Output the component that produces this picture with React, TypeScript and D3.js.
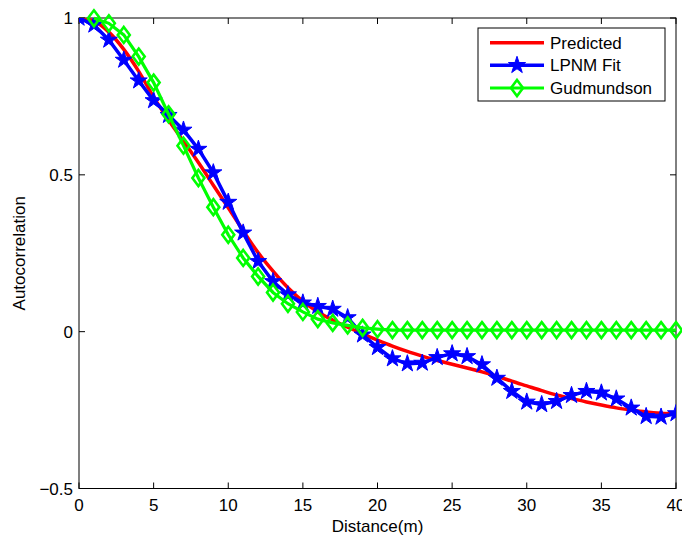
import React from "react";
import * as d3 from "d3";

const predictedDistance = [0,1,2,3,4,5,6,7,8,9,10,11,12,13,14,15,16,17,18,19,20,21,22,23,24,25,26,27,28,29,30,31,32,33,34,35,36,37,38,39,40];
const predictedValues = [1.0,0.99,0.955,0.9,0.83,0.748,0.675,0.607,0.539,0.467,0.395,0.322,0.252,0.193,0.14,0.097,0.063,0.037,0.014,-0.007,-0.027,-0.046,-0.063,-0.078,-0.092,-0.104,-0.116,-0.128,-0.142,-0.158,-0.173,-0.188,-0.202,-0.213,-0.224,-0.234,-0.243,-0.25,-0.256,-0.26,-0.262];

const lpnmDistance = [0,1,2,3,4,5,6,7,8,9,10,11,12,13,14,15,16,17,18,19,20,21,22,23,24,25,26,27,28,29,30,31,32,33,34,35,36,37,38,39,40];
const lpnmValues = [1.0,0.978,0.93,0.866,0.8,0.737,0.69,0.643,0.582,0.507,0.413,0.315,0.224,0.16,0.118,0.092,0.081,0.072,0.045,-0.01,-0.05,-0.086,-0.102,-0.1,-0.082,-0.07,-0.079,-0.105,-0.148,-0.19,-0.224,-0.232,-0.222,-0.203,-0.19,-0.195,-0.214,-0.243,-0.27,-0.272,-0.261];

const gudDistance = [1,2,3,4,5,6,7,8,9,10,11,12,13,14,15,16,17,18,19,20,21,22,23,24,25,26,27,28,29,30,31,32,33,34,35,36,37,38,39,40];
const gudValues = [0.999,0.983,0.946,0.877,0.794,0.693,0.593,0.49,0.397,0.309,0.235,0.176,0.125,0.089,0.063,0.04,0.028,0.02,0.012,0.008,0.005,0.005,0.005,0.005,0.005,0.005,0.005,0.005,0.005,0.005,0.005,0.005,0.005,0.005,0.005,0.005,0.005,0.005,0.005,0.005];

const xTicks = [0,5,10,15,20,25,30,35,40];
const yTicks = [-0.5,0,0.5,1];
const yTickLabels = ["\u22120.5","0","0.5","1"];
const legendLabels = ["Predicted","LPNM Fit","Gudmundson"];
const xLabel = "Distance(m)";
const yLabel = "Autocorrelation";

const W = 682, H = 538;
const L = 79, R = 676, T = 18, B = 488.5;
const FONT = "'Liberation Sans', Arial, Helvetica, sans-serif";
const FS = 17;

function starPath(cx: number, cy: number, ro: number) {
  const ri = ro * 0.382;
  const pts: string[] = [];
  for (let i = 0; i < 10; i++) {
    const a = -Math.PI / 2 + (i * Math.PI) / 5;
    const r = i % 2 === 0 ? ro : ri;
    pts.push(`${(cx + r * Math.cos(a)).toFixed(2)},${(cy + r * Math.sin(a)).toFixed(2)}`);
  }
  return "M" + pts.join("L") + "Z";
}
function diamondPath(cx: number, cy: number, hw: number, hh: number) {
  return `M${cx},${cy - hh}L${cx + hw},${cy}L${cx},${cy + hh}L${cx - hw},${cy}Z`;
}

export default function App() {
  const x = d3.scaleLinear().domain([0, 40]).range([L, R]);
  const y = d3.scaleLinear().domain([-0.5, 1]).range([B, T]);

  const predLine = d3.line<number>().x((_, i) => x(predictedDistance[i])).y((v) => y(v)).curve(d3.curveMonotoneX);
  const lpnmLine = d3.line<number>().x((_, i) => x(lpnmDistance[i])).y((v) => y(v));
  const gudLine = d3.line<number>().x((_, i) => x(gudDistance[i])).y((v) => y(v));

  const tickLen = 6;
  const legY = [42.7, 65.3, 88];

  return (
    <svg width={W} height={H} style={{ position: "absolute", left: 0, top: 0, background: "#fff" }} fontFamily={FONT}>
      <defs>
        <clipPath id="plotClip">
          <rect x={L} y={T} width={R - L} height={B - T} />
        </clipPath>
      </defs>
      <rect x={0} y={0} width={W} height={H} fill="#fff" />
      {/* axes box */}
      <rect x={L} y={T} width={R - L} height={B - T} fill="none" stroke="#000" strokeWidth={1} />
      {xTicks.map((t) => (
        <g key={"xt" + t}>
          <line x1={x(t)} x2={x(t)} y1={B} y2={B - tickLen} stroke="#000" />
          <line x1={x(t)} x2={x(t)} y1={T} y2={T + tickLen} stroke="#000" />
          <text x={x(t)} y={511} fontSize={FS} textAnchor="middle" fill="#000">{t}</text>
        </g>
      ))}
      {yTicks.map((t, i) => (
        <g key={"yt" + t}>
          <line x1={L} x2={L + tickLen} y1={y(t)} y2={y(t)} stroke="#000" />
          <line x1={R} x2={R - tickLen} y1={y(t)} y2={y(t)} stroke="#000" />
          <text x={73} y={y(t) + 6} fontSize={FS} textAnchor="end" fill="#000">{yTickLabels[i]}</text>
        </g>
      ))}
      <text x={(L + R) / 2} y={532} fontSize={FS} textAnchor="middle" fill="#000">{xLabel}</text>
      <text transform={`translate(25,${(T + B) / 2}) rotate(-90)`} fontSize={FS} textAnchor="middle" fill="#000">{yLabel}</text>

      {/* series */}
      <path d={predLine(predictedValues) || ""} fill="none" stroke="#ff0000" strokeWidth={3.5} clipPath="url(#plotClip)" />
      <path d={lpnmLine(lpnmValues) || ""} fill="none" stroke="#0000ff" strokeWidth={3.5} clipPath="url(#plotClip)" />
      <g clipPath="url(#plotClip)">
        {lpnmValues.map((v, i) => (
          <path key={"s" + i} d={starPath(x(lpnmDistance[i]), y(v), 9)} fill="#0000ff" stroke="#0000ff" strokeWidth={1} />
        ))}
      </g>
      <path d={gudLine(gudValues) || ""} fill="none" stroke="#00ff00" strokeWidth={3.2} />
      {gudValues.map((v, i) => (
        <path key={"d" + i} d={diamondPath(x(gudDistance[i]), y(v), 6, 8)} fill="none" stroke="#00ff00" strokeWidth={2.6} />
      ))}

      {/* legend */}
      <rect x={478} y={28} width={187} height={73} fill="#fff" stroke="#000" strokeWidth={1} />
      <line x1={490} x2={544} y1={legY[0]} y2={legY[0]} stroke="#ff0000" strokeWidth={3.5} />
      <line x1={490} x2={544} y1={legY[1]} y2={legY[1]} stroke="#0000ff" strokeWidth={3.5} />
      <path d={starPath(517, legY[1], 9)} fill="#0000ff" stroke="#0000ff" strokeWidth={1} />
      <line x1={490} x2={544} y1={legY[2]} y2={legY[2]} stroke="#00ff00" strokeWidth={3.2} />
      <path d={diamondPath(517, legY[2], 6, 8)} fill="none" stroke="#00ff00" strokeWidth={2.6} />
      {legendLabels.map((lab, i) => (
        <text key={lab} x={550} y={legY[i] + 6} fontSize={FS} fill="#000">{lab}</text>
      ))}
    </svg>
  );
}
